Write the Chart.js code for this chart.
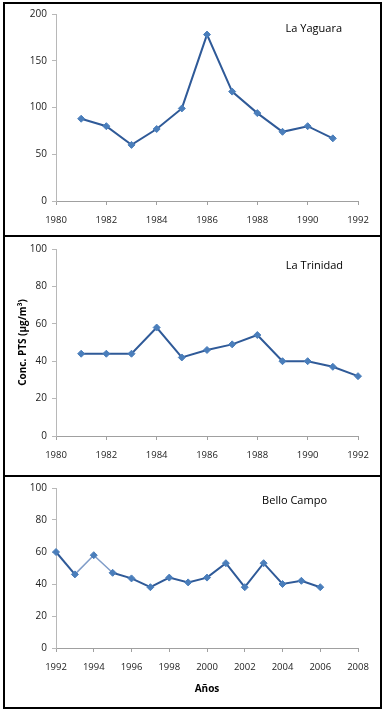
<!DOCTYPE html>
<html>
<head>
<meta charset="utf-8">
<script src="https://cdn.jsdelivr.net/npm/chart.js@4.4.0/dist/chart.umd.min.js"></script>
<style>
    html, body { margin: 0; padding: 0; background: #fff; }
    body { position: relative; width: 384px; height: 709px; overflow: hidden; }
    .panel { position: absolute; left: 3px; width: 379px; border: 2px solid #000; box-sizing: border-box; }
    canvas { position: absolute; left: 0; }
</style>
</head>
<body>
<div class="panel" style="top:2px;height:235px"></div>
<div class="panel" style="top:235px;height:242px"></div>
<div class="panel" style="top:475px;height:234px"></div>
<canvas id="chartYaguara" width="384" height="235" style="top:0;width:384px;height:235px"></canvas>
<canvas id="chartTrinidad" width="384" height="236" style="top:237px;width:384px;height:236px"></canvas>
<canvas id="chartBello" width="384" height="230" style="top:477px;width:384px;height:230px"></canvas>
<script>
// Datos
const yaguaraYears = [1981, 1982, 1983, 1984, 1985, 1986, 1987, 1988, 1989, 1990, 1991];
const yaguaraValues = [88, 80, 60, 77, 99, 178, 117, 94, 74, 80, 67];

const trinidadYears = [1981, 1982, 1983, 1984, 1985, 1986, 1987, 1988, 1989, 1990, 1991, 1992];
const trinidadValues = [44, 44, 44, 58, 42, 46, 49, 54, 40, 40, 37, 32];

const belloYears = [1992, 1993, 1994, 1995, 1996, 1997, 1998, 1999, 2000, 2001, 2002, 2003, 2004, 2005, 2006];
const belloValues = [60, 46, 58, 47, 43.5, 38, 44, 41, 44, 53, 38, 53, 40, 42, 38];

// Rangos de ejes: [min, max, paso]
const yaguaraXAxis = [1980, 1992, 2];
const yaguaraYAxis = [0, 200, 50];
const trinidadXAxis = [1980, 1992, 2];
const trinidadYAxis = [0, 100, 20];
const belloXAxis = [1992, 2008, 2];
const belloYAxis = [0, 100, 20];

const yAxisTitle = 'Conc. PTS (µg/m³)';
const xAxisTitle = 'Años';

Chart.defaults.font.family = "'Open Sans', sans-serif";
Chart.defaults.font.size = 9.5;
Chart.defaults.color = '#222';

const LINE_COLOR = '#2f5a98';
const POINT_COLOR = '#4a7ebb';

// Nombre de la estación dentro del área del gráfico
const stationLabel = {
    id: 'stationLabel',
    afterDatasetsDraw(chart, args, opts) {
        const { ctx, chartArea } = chart;
        ctx.save();
        ctx.font = "11px 'Open Sans', sans-serif";
        ctx.fillStyle = '#000';
        ctx.textAlign = 'right';
        ctx.textBaseline = 'middle';
        ctx.fillText(opts.text, chartArea.right - opts.dx, chartArea.top + opts.dy);
        ctx.restore();
    }
};

function makeChart(id, years, values, xAxis, yAxis, cfg) {
    const ctx = document.getElementById(id).getContext('2d');
    return new Chart(ctx, {
        type: 'line',
        data: {
            datasets: [{
                data: years.map((y, i) => ({ x: y, y: values[i] })),
                borderColor: LINE_COLOR,
                borderWidth: 2,
                backgroundColor: POINT_COLOR,
                pointBackgroundColor: POINT_COLOR,
                pointBorderColor: POINT_COLOR,
                pointStyle: 'rectRot',
                pointRadius: 3.5,
                pointBorderWidth: 1,
                tension: 0,
                clip: false,
                segment: cfg.segment || {}
            }]
        },
        options: {
            responsive: false,
            animation: false,
            events: [],
            layout: { padding: { top: cfg.top, right: 26, bottom: 0, left: 0 } },
            plugins: {
                legend: { display: false },
                tooltip: { enabled: false },
                stationLabel: cfg.label
            },
            scales: {
                x: {
                    type: 'linear',
                    min: xAxis[0],
                    max: xAxis[1],
                    ticks: { stepSize: xAxis[2], padding: 10, maxRotation: 0, callback: v => String(v) },
                    grid: { drawOnChartArea: false, drawTicks: true, tickLength: 4, color: '#a0a0a0' },
                    border: { display: true, color: '#a0a0a0', width: 1 },
                    title: {
                        display: !!cfg.xTitle,
                        text: cfg.xTitle || '',
                        font: { size: 10, weight: 'bold' },
                        color: '#000',
                        padding: { top: 0, bottom: 12 }
                    },
                    afterFit(scale) { scale.height = cfg.xHeight; }
                },
                y: {
                    min: yAxis[0],
                    max: yAxis[1],
                    ticks: { stepSize: yAxis[2], padding: 5, font: { size: 10 } },
                    grid: { drawOnChartArea: false, drawTicks: true, tickLength: 4, color: '#b8b8b8' },
                    border: { display: true, color: '#b8b8b8', width: 1 },
                    title: {
                        display: !!cfg.yTitle,
                        text: cfg.yTitle || '',
                        font: { size: 10, weight: 'bold' },
                        color: '#000',
                        padding: { top: 17, bottom: 0 }
                    },
                    afterFit(scale) { scale.width = 56; }
                }
            }
        },
        plugins: [stationLabel]
    });
}

makeChart('chartYaguara', yaguaraYears, yaguaraValues, yaguaraXAxis, yaguaraYAxis, {
    top: 14,
    xHeight: 34,
    label: { text: 'La Yaguara', dx: 16, dy: 15 }
});

makeChart('chartTrinidad', trinidadYears, trinidadValues, trinidadXAxis, trinidadYAxis, {
    top: 12,
    xHeight: 37,
    yTitle: yAxisTitle,
    label: { text: 'La Trinidad', dx: 15, dy: 17 }
});

makeChart('chartBello', belloYears, belloValues, belloXAxis, belloYAxis, {
    top: 11,
    xHeight: 59,
    xTitle: xAxisTitle,
    label: { text: 'Bello Campo', dx: 31, dy: 13 },
    segment: {
        borderColor: c => (c.p0DataIndex === 1 || c.p0DataIndex === 2) ? '#7f9cc8' : undefined,
        borderWidth: c => (c.p0DataIndex === 1 || c.p0DataIndex === 2) ? 1.5 : undefined
    }
});
</script>
</body>
</html>
